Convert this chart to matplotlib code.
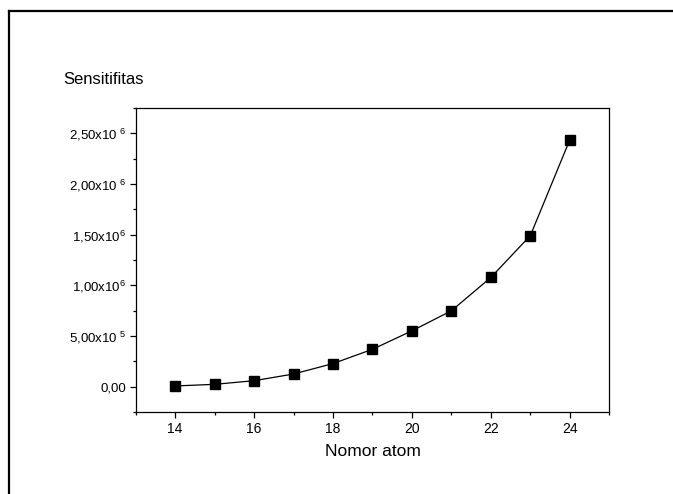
import matplotlib.pyplot as plt
from matplotlib.lines import Line2D
from matplotlib.ticker import MultipleLocator

# Data
atomic_number = [14, 15, 16, 17, 18, 19, 20, 21, 22, 23, 24]
sensitivity = [7000, 23000, 59000, 125000, 228000, 369000, 551000, 749000, 1078000, 1491000, 2437000]

y_ticks = [0, 500000, 1000000, 1500000, 2000000, 2500000]
y_tick_labels = ["0,00", "5,00x10$^{\\ 5}$", "1,00x10$^{6}$", "1,50x10$^{6}$",
                 "2,00x10$^{\\ 6}$", "2,50x10$^{\\ 6}$"]
x_ticks = [14, 16, 18, 20, 22, 24]

plt.rcParams['font.family'] = ['Liberation Sans', 'DejaVu Sans']
plt.rcParams['mathtext.fontset'] = 'custom'
plt.rcParams['mathtext.rm'] = 'Liberation Sans'
plt.rcParams['mathtext.default'] = 'rm'

fig = plt.figure(figsize=(6.73, 4.94), dpi=100)
ax = fig.add_axes([135.7 / 673, 1 - 412 / 494, (609.3 - 135.7) / 673, (412 - 108) / 494])

ax.plot(atomic_number, sensitivity, color='black', linewidth=0.9,
        marker='s', markersize=6.5, markerfacecolor='black', markeredgecolor='black')

ax.set_xlim(13, 25)
ax.set_ylim(-250000, 2750000)

ax.set_xticks(x_ticks)
ax.set_xticklabels([str(x) for x in x_ticks], fontsize=10)
ax.xaxis.set_minor_locator(MultipleLocator(1))
ax.set_yticks(y_ticks)
ax.set_yticklabels(y_tick_labels, fontsize=9.5)
ax.yaxis.set_minor_locator(MultipleLocator(250000))

ax.tick_params(axis='both', which='major', direction='out', length=4, width=0.9, pad=3)
ax.tick_params(axis='both', which='minor', direction='out', length=2.5, width=0.9)
ax.tick_params(top=False, right=False, which='both')

for side in ['left', 'bottom', 'top', 'right']:
    ax.spines[side].set_linewidth(0.9)
    ax.spines[side].set_color('black')

ax.set_xlabel('Nomor atom', fontsize=12.5, labelpad=6)
fig.text(63 / 673, 1 - 80 / 494, 'Sensitifitas', fontsize=12, va='center', ha='left')

# Outer frame (top and left edges only)
fig.add_artist(Line2D([9 / 673, 1.0], [1 - 11 / 494, 1 - 11 / 494],
                      transform=fig.transFigure, color='black', linewidth=1.6))
fig.add_artist(Line2D([9 / 673, 9 / 673], [0.0, 1 - 11 / 494],
                      transform=fig.transFigure, color='black', linewidth=1.6,
                      solid_capstyle='projecting'))

plt.savefig("out.png", dpi=100)
